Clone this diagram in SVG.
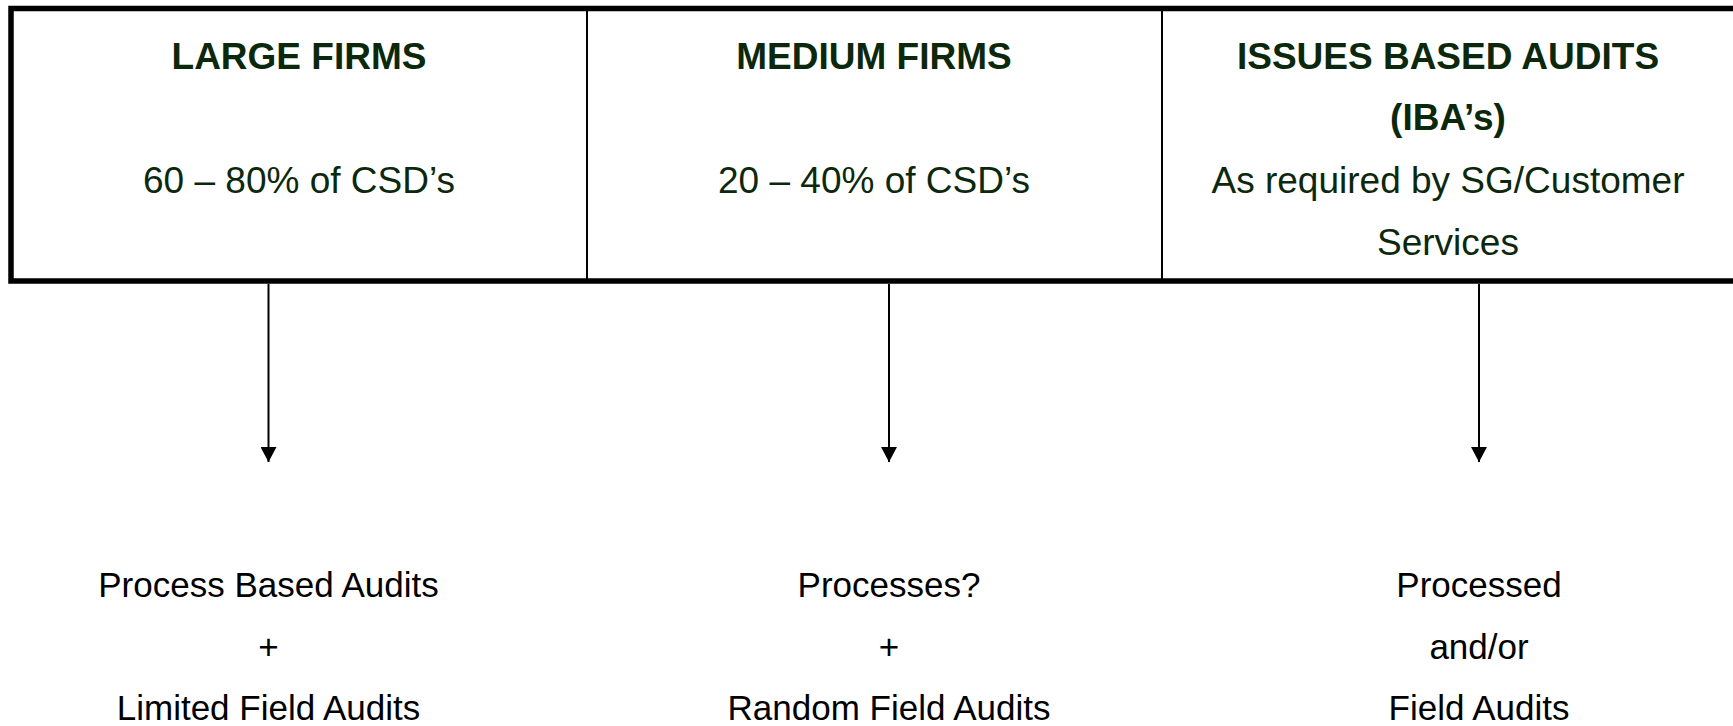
<svg xmlns="http://www.w3.org/2000/svg" width="1733" height="726" viewBox="0 0 1733 726">
<style>
.hd{font-family:"Liberation Sans",Arial,sans-serif;font-size:37px;font-weight:bold;fill:#0c280c;text-anchor:middle}
.tx{font-family:"Liberation Sans",Arial,sans-serif;font-size:37px;fill:#0c280c;text-anchor:middle}
.bt{font-family:"Liberation Sans",Arial,sans-serif;font-size:35px;fill:#000;text-anchor:middle}
.conn{stroke:#000;stroke-width:2;fill:none}
</style>
<defs>
<marker id="ah" markerUnits="userSpaceOnUse" markerWidth="16" markerHeight="16" refX="15" refY="8" orient="auto">
<path d="M0,0 L15,8 L0,16 Z" fill="#000"/>
</marker>
</defs>
<rect width="1733" height="726" fill="#fff"/>
<g id="table">
<rect x="11" y="8.5" width="1740" height="272.5" fill="#fff" stroke="#000" stroke-width="5.5"/>
<line x1="587" y1="8" x2="587" y2="281" stroke="#000" stroke-width="2"/>
<line x1="1162" y1="8" x2="1162" y2="281" stroke="#000" stroke-width="2"/>
</g>
<g id="large">
<text class="hd" x="299" y="69">LARGE FIRMS</text>
<text class="tx" x="299" y="193">60 – 80% of CSD’s</text>
</g>
<g id="medium">
<text class="hd" x="874" y="69">MEDIUM FIRMS</text>
<text class="tx" x="874" y="193">20 – 40% of CSD’s</text>
</g>
<g id="iba">
<text class="hd" x="1448" y="69">ISSUES BASED AUDITS</text>
<text class="hd" x="1448" y="130">(IBA’s)</text>
<text class="tx" x="1448" y="193">As required by SG/Customer</text>
<text class="tx" x="1448" y="255">Services</text>
</g>
<g id="connectors">
<line class="conn" x1="268.5" y1="284" x2="268.5" y2="462" marker-end="url(#ah)"/>
<line class="conn" x1="889" y1="284" x2="889" y2="462" marker-end="url(#ah)"/>
<line class="conn" x1="1479" y1="284" x2="1479" y2="462" marker-end="url(#ah)"/>
</g>
<g id="out-large">
<text class="bt" x="268.5" y="597">Process Based Audits</text>
<text class="bt" x="268.5" y="659">+</text>
<text class="bt" x="268.5" y="720">Limited Field Audits</text>
</g>
<g id="out-medium">
<text class="bt" x="889" y="597">Processes?</text>
<text class="bt" x="889" y="659">+</text>
<text class="bt" x="889" y="720">Random Field Audits</text>
</g>
<g id="out-iba">
<text class="bt" x="1479" y="597">Processed</text>
<text class="bt" x="1479" y="659">and/or</text>
<text class="bt" x="1479" y="720">Field Audits</text>
</g>
</svg>
